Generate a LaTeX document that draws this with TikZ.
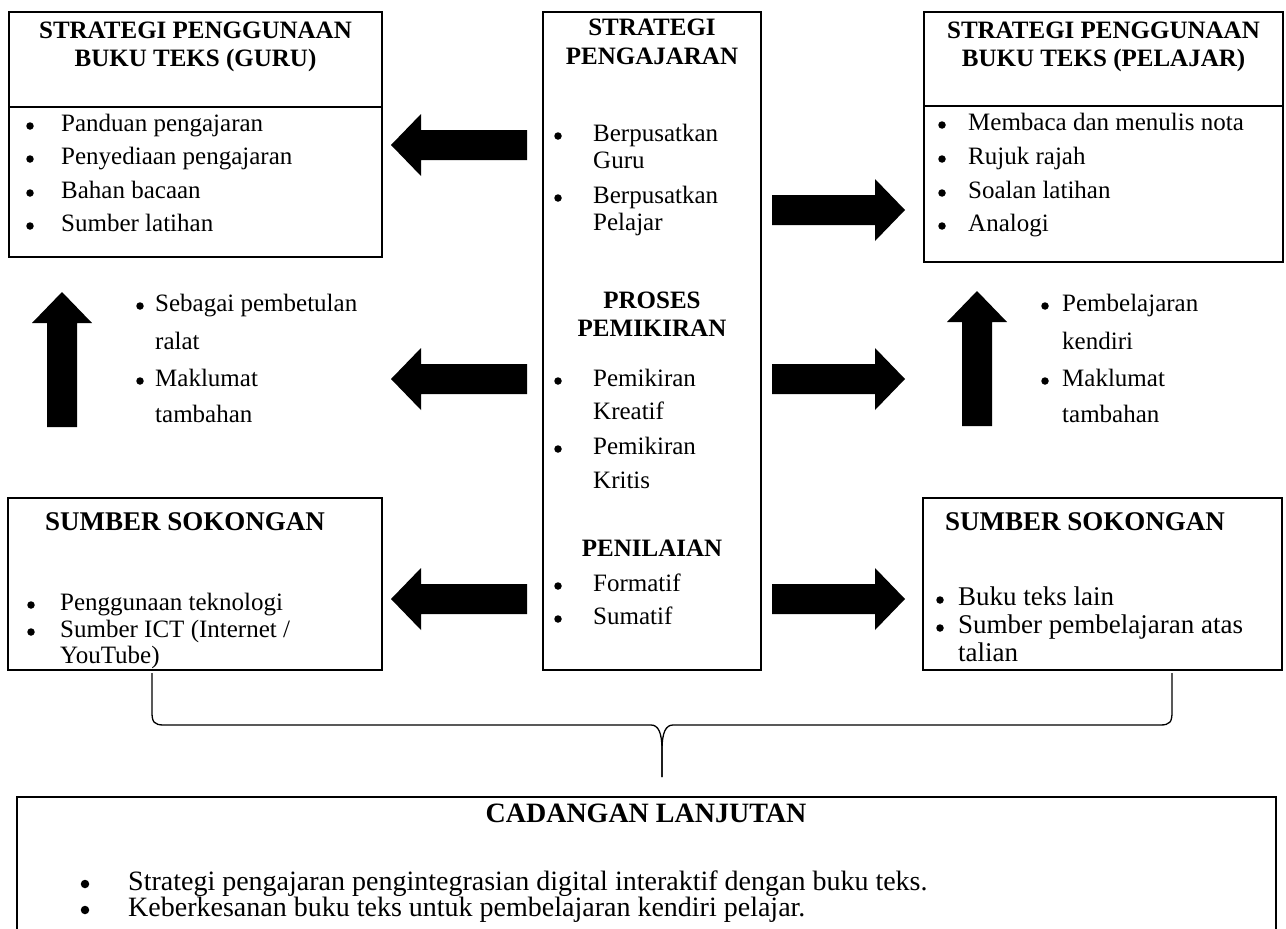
\documentclass[tikz,border=0pt]{standalone}
\usepackage{fontspec}
\setmainfont{Liberation Serif}
\newcommand\fs{\fontsize{25}{29}\selectfont}
\newcommand\fsM{\fontsize{27}{31}\selectfont}
\newcommand\fsL{\fontsize{28}{32}\selectfont}
\tikzset{
  frame/.style={draw, line width=2pt, inner sep=0, outer sep=0},
  ttl/.style={font=\fs\bfseries, anchor=center, inner sep=0, text height=18, text depth=6},
  ttlM/.style={font=\fsM\bfseries, anchor=center, inner sep=0, text height=19, text depth=6},
  ttlL/.style={font=\fsL\bfseries, anchor=center, inner sep=0, text height=20, text depth=6},
  itm/.style={font=\fs, anchor=west, inner sep=0, text height=18, text depth=6},
  itmM/.style={font=\fsM, anchor=west, inner sep=0, text height=19, text depth=6},
  itmL/.style={font=\fsL, anchor=west, inner sep=0, text height=20, text depth=6},
  bul/.style={circle, fill=black, draw=none, inner sep=0, minimum size=7.5},
  bulL/.style={circle, fill=black, draw=none, inner sep=0, minimum size=8.5},
  blk/.style={fill=black, draw=none},
  brace/.style={draw, line width=1.3pt}
}
\newcommand\tline[4]{\node[ttl] (#1) at (#2,#3) {#4};}
\newcommand\bitem[5]{\node[bul] (#1b) at (#2,{#4+1}) {}; \node[itm] (#1) at (#3,#4) {#5};}
\newcommand\cont[4]{\node[itm] (#1) at (#2,#3) {#4};}
% left-pointing block arrow: name, tip x, y, tail x
\newcommand\larrow[4]{\coordinate (#1) at (#2,#3);
  \fill[blk] (#2,#3) -- ({#2+30},{#3-31}) -- ({#2+30},{#3-15}) -- (#4,{#3-15}) -- (#4,{#3+15}) -- ({#2+30},{#3+15}) -- ({#2+30},{#3+31}) -- cycle;}
\newcommand\rarrow[4]{\coordinate (#1) at (#2,#3);
  \fill[blk] (#2,#3) -- ({#2-30},{#3-31}) -- ({#2-30},{#3-15}) -- (#4,{#3-15}) -- (#4,{#3+15}) -- ({#2-30},{#3+15}) -- ({#2-30},{#3+31}) -- cycle;}
\newcommand\uarrow[4]{\coordinate (#1) at (#2,#3);
  \fill[blk] (#2,#3) -- ({#2-30},{#3+31}) -- ({#2-15},{#3+31}) -- ({#2-15},#4) -- ({#2+15},#4) -- ({#2+15},{#3+31}) -- ({#2+30},{#3+31}) -- cycle;}
\begin{document}
\begin{tikzpicture}[x=1pt,y=-1pt]
\useasboundingbox (0,0) rectangle (1286,929);

% ---------- boxes ----------
\node[frame, anchor=north west, minimum width=373, minimum height=245] (tl) at (9,12) {};
\draw[line width=2pt] (tl.west |- 0,107) -- (tl.east |- 0,107);
\node[frame, anchor=north west, minimum width=218, minimum height=658] (cen) at (543,12) {};
\node[frame, anchor=north west, minimum width=359, minimum height=250] (tr) at (924,12) {};
\draw[line width=2pt] (tr.west |- 0,106) -- (tr.east |- 0,106);
\node[frame, anchor=north west, minimum width=374, minimum height=172] (bl) at (8,498) {};
\node[frame, anchor=north west, minimum width=359, minimum height=172] (br) at (923,498) {};
\node[frame, anchor=north west, minimum width=1259, minimum height=200] (cad) at (17,797) {};

% ---------- top-left ----------
\tline{tl1}{195.5}{32}{STRATEGI PENGGUNAAN}
\tline{tl2}{195.5}{60}{BUKU TEKS (GURU)}
\bitem{tla}{30}{61}{125}{Panduan pengajaran}
\bitem{tlb}{30}{61}{158}{Penyediaan pengajaran}
\bitem{tlc}{30}{61}{192}{Bahan bacaan}
\bitem{tld}{30}{61}{225}{Sumber latihan}

% ---------- center ----------
\tline{c1}{652}{29}{STRATEGI}
\tline{c2}{652}{58}{PENGAJARAN}
\bitem{ca}{558}{593}{135}{Berpusatkan}
\cont{ca2}{593}{162}{Guru}
\bitem{cb}{558}{593}{197}{Berpusatkan}
\cont{cb2}{593}{224}{Pelajar}
\tline{c3}{652}{302}{PROSES}
\tline{c4}{652}{330}{PEMIKIRAN}
\bitem{cc}{558}{593}{380}{Pemikiran}
\cont{cc2}{593}{413}{Kreatif}
\bitem{cd}{558}{593}{448}{Pemikiran}
\cont{cd2}{593}{482}{Kritis}
\tline{c5}{652}{550}{PENILAIAN}
\bitem{ce}{558}{593}{585}{Formatif}
\bitem{cf}{558}{593}{618}{Sumatif}

% ---------- top-right ----------
\tline{tr1}{1103.5}{32}{STRATEGI PENGGUNAAN}
\tline{tr2}{1103.5}{60}{BUKU TEKS (PELAJAR)}
\bitem{tra}{942}{968}{124}{Membaca dan menulis nota}
\bitem{trb}{942}{968}{158}{Rujuk rajah}
\bitem{trc}{942}{968}{192}{Soalan latihan}
\bitem{trd}{942}{968}{225}{Analogi}

% ---------- middle texts ----------
\bitem{ma}{140}{155}{305}{Sebagai pembetulan}
\cont{ma2}{155}{343}{ralat}
\bitem{mb}{140}{155}{380}{Maklumat}
\cont{mb2}{155}{416}{tambahan}
\bitem{na}{1045}{1062}{305}{Pembelajaran}
\cont{na2}{1062}{343}{kendiri}
\bitem{nb}{1045}{1062}{380}{Maklumat}
\cont{nb2}{1062}{416}{tambahan}

% ---------- bottom-left / bottom-right ----------
\node[ttlM] (bl1) at (185,524) {SUMBER SOKONGAN};
\bitem{bla}{31}{60}{604}{Penggunaan teknologi}
\bitem{blb}{31}{60}{631}{Sumber ICT (Internet /}
\cont{blb2}{60}{657}{YouTube)}
\node[ttlM] (br1) at (1085,524) {SUMBER SOKONGAN};
\node[bul] (brab) at (940,600) {}; \node[itmM] (bra) at (958,599) {Buku teks lain};
\node[bul] (brbb) at (940,628) {}; \node[itmM] (brb) at (958,627) {Sumber pembelajaran atas};
\node[itmM] (brb2) at (958,655) {talian};

% ---------- bottom box ----------
\node[ttlL] (cd1) at (646,815) {CADANGAN LANJUTAN};
\node[bulL] (cdab) at (85,884) {}; \node[itmL] (cda) at (128,883) {Strategi pengajaran pengintegrasian digital interaktif dengan buku teks.};
\node[bulL] (cdbb) at (85,910) {}; \node[itmL] (cdb) at (128,909) {Keberkesanan buku teks untuk pembelajaran kendiri pelajar.};

% ---------- block arrows ----------
\larrow{a1}{391}{145}{527}
\larrow{a2}{391}{379}{527}
\larrow{a3}{391}{599}{527}
\rarrow{a4}{905}{210}{772}
\rarrow{a5}{905}{379}{772}
\rarrow{a6}{905}{599}{772}
\uarrow{u1}{62}{292}{427}
\uarrow{u2}{977}{291}{426}

% ---------- brace ----------
\coordinate (bL) at (152,673);
\coordinate (bR) at (1172,673);
\coordinate (bT) at (662,777);
\draw[brace] (bL) -- (152,712) .. controls (152,722) and (154,725) .. (164,725) -- (651,725)
  .. controls (658,725) and (662,732) .. (662,750) -- (bT);
\draw[brace] (bR) -- (1172,712) .. controls (1172,722) and (1170,725) .. (1160,725) -- (673,725)
  .. controls (666,725) and (662,732) .. (662,750) -- (bT);
\end{tikzpicture}
\end{document}
